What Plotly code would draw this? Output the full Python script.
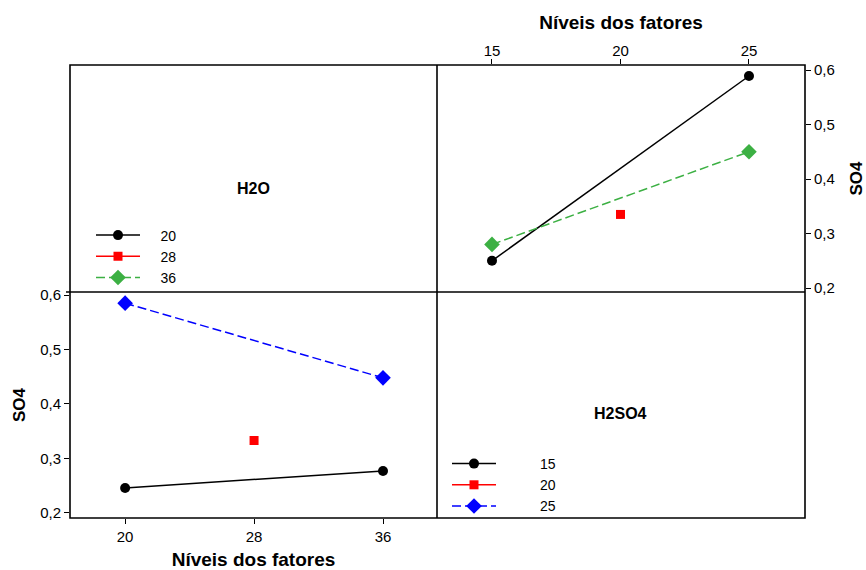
import plotly.graph_objects as go

W, H = 866, 570

# ---- data ----
# Top-right panel: x = H2SO4 levels, lines = H2O levels
h2so4_levels = [15, 20, 25]
h2o_series_names = ["20", "28", "36"]
tr_x = {"20": [15, 25], "28": [20], "36": [15, 25]}
tr_y = {"20": [0.250, 0.589], "28": [0.335], "36": [0.280, 0.450]}

# Bottom-left panel: x = H2O levels, lines = H2SO4 levels
h2o_levels = [20, 28, 36]
h2so4_series_names = ["15", "20", "25"]
bl_x = {"15": [20, 36], "20": [28], "25": [20, 36]}
bl_y = {"15": [0.246, 0.277], "20": [0.333], "25": [0.585, 0.448]}

y_ticks = [0.2, 0.3, 0.4, 0.5, 0.6]

FONT = "Liberation Sans, Arial, sans-serif"
NB = "\u00a0"

styles_tr = {
    "20": dict(color="black", symbol="circle", size=10, dash="solid"),
    "28": dict(color="#ff0000", symbol="square", size=9, dash="solid"),
    "36": dict(color="#3cb043", symbol="diamond", size=12, dash="9px,4px"),
}
styles_bl = {
    "15": dict(color="black", symbol="circle", size=10, dash="solid"),
    "20": dict(color="#ff0000", symbol="square", size=9, dash="solid"),
    "25": dict(color="#0000ff", symbol="diamond", size=12, dash="9px,4px"),
}

fig = go.Figure()

for name in h2o_series_names:
    s = styles_tr[name]
    fig.add_trace(go.Scatter(
        x=tr_x[name], y=tr_y[name], name=NB * 4 + name, mode="lines+markers",
        line=dict(color=s["color"], width=1.5, dash=s["dash"]),
        marker=dict(color=s["color"], symbol=s["symbol"], size=s["size"]),
        xaxis="x2", yaxis="y2", legend="legend",
    ))

for name in h2so4_series_names:
    s = styles_bl[name]
    fig.add_trace(go.Scatter(
        x=bl_x[name], y=bl_y[name], name=NB * 10 + name, mode="lines+markers",
        line=dict(color=s["color"], width=1.5, dash=s["dash"]),
        marker=dict(color=s["color"], symbol=s["symbol"], size=s["size"]),
        xaxis="x", yaxis="y", legend="legend2",
    ))

def px(x):
    return x / W

def py(y):
    return 1 - y / H

tickfont = dict(family=FONT, size=15, color="black")
xtitlefont = dict(family=FONT, size=19, color="black", weight="bold")
ytitlefont = dict(family=FONT, size=17, color="black", weight="bold")

common_axis = dict(
    showgrid=False, zeroline=False, showline=False, automargin=False,
    ticks="outside", ticklen=5, tickwidth=1.2, tickcolor="black",
    tickfont=tickfont,
)

fig.update_layout(
    width=W, height=H,
    margin=dict(l=0, r=0, t=0, b=0, autoexpand=False),
    paper_bgcolor="white", plot_bgcolor="rgba(0,0,0,0)",
    separators=",.",
    font=dict(family=FONT, color="black"),
    xaxis=dict(domain=[px(70), px(437)], range=[16.58, 39.35], anchor="y",
               tickvals=h2o_levels, ticktext=[str(v) for v in h2o_levels],
               title=dict(text="Níveis dos fatores", font=xtitlefont, standoff=12),
               **common_axis),
    yaxis=dict(domain=[py(518), py(292)], range=[0.1908, 0.6055], anchor="x",
               tickvals=y_ticks, tickformat=".1f",
               title=dict(text="SO4", font=ytitlefont, standoff=10),
               **common_axis),
    xaxis2=dict(domain=[px(437), px(805)], range=[12.86, 27.18], anchor="y2",
                side="top", tickvals=h2so4_levels,
                ticktext=[str(v) for v in h2so4_levels],
                ticklabelstandoff=-3,
                title=dict(text="Níveis dos fatores", font=xtitlefont, standoff=7),
                **common_axis),
    yaxis2=dict(domain=[py(292), py(65)], range=[0.1927, 0.6092], anchor="x2",
                side="right", tickvals=y_ticks, tickformat=".1f",
                title=dict(text="SO4", font=ytitlefont, standoff=22),
                **common_axis),
    legend=dict(x=px(91), y=py(219.5), xanchor="left", yanchor="top",
                bgcolor="rgba(0,0,0,0)", font=dict(family=FONT, size=14),
                itemwidth=44, tracegroupgap=0),
    legend2=dict(x=px(447), y=py(448), xanchor="left", yanchor="top",
                 bgcolor="rgba(0,0,0,0)", font=dict(family=FONT, size=14),
                 itemwidth=44, tracegroupgap=0),
    showlegend=True,
)

# frame and dividers
frame = dict(color="black", width=1.6)
fig.add_shape(type="rect", xref="paper", yref="paper",
              x0=px(70), x1=px(805), y0=py(518), y1=py(65), line=frame)
fig.add_shape(type="line", xref="paper", yref="paper",
              x0=px(437), x1=px(437), y0=py(518), y1=py(65), line=frame)
fig.add_shape(type="line", xref="paper", yref="paper",
              x0=px(66), x1=px(805), y0=py(292), y1=py(292), line=frame)

fig.add_annotation(text="<b>H2O</b>", xref="paper", yref="paper",
                   x=px(254), y=py(188), xanchor="center", yanchor="middle",
                   showarrow=False,
                   font=dict(family=FONT, size=16, color="black"))
fig.add_annotation(text="<b>H2SO4</b>", xref="paper", yref="paper",
                   x=px(620), y=py(413), xanchor="center", yanchor="middle",
                   showarrow=False,
                   font=dict(family=FONT, size=16, color="black"))

fig.write_html("out.html")
